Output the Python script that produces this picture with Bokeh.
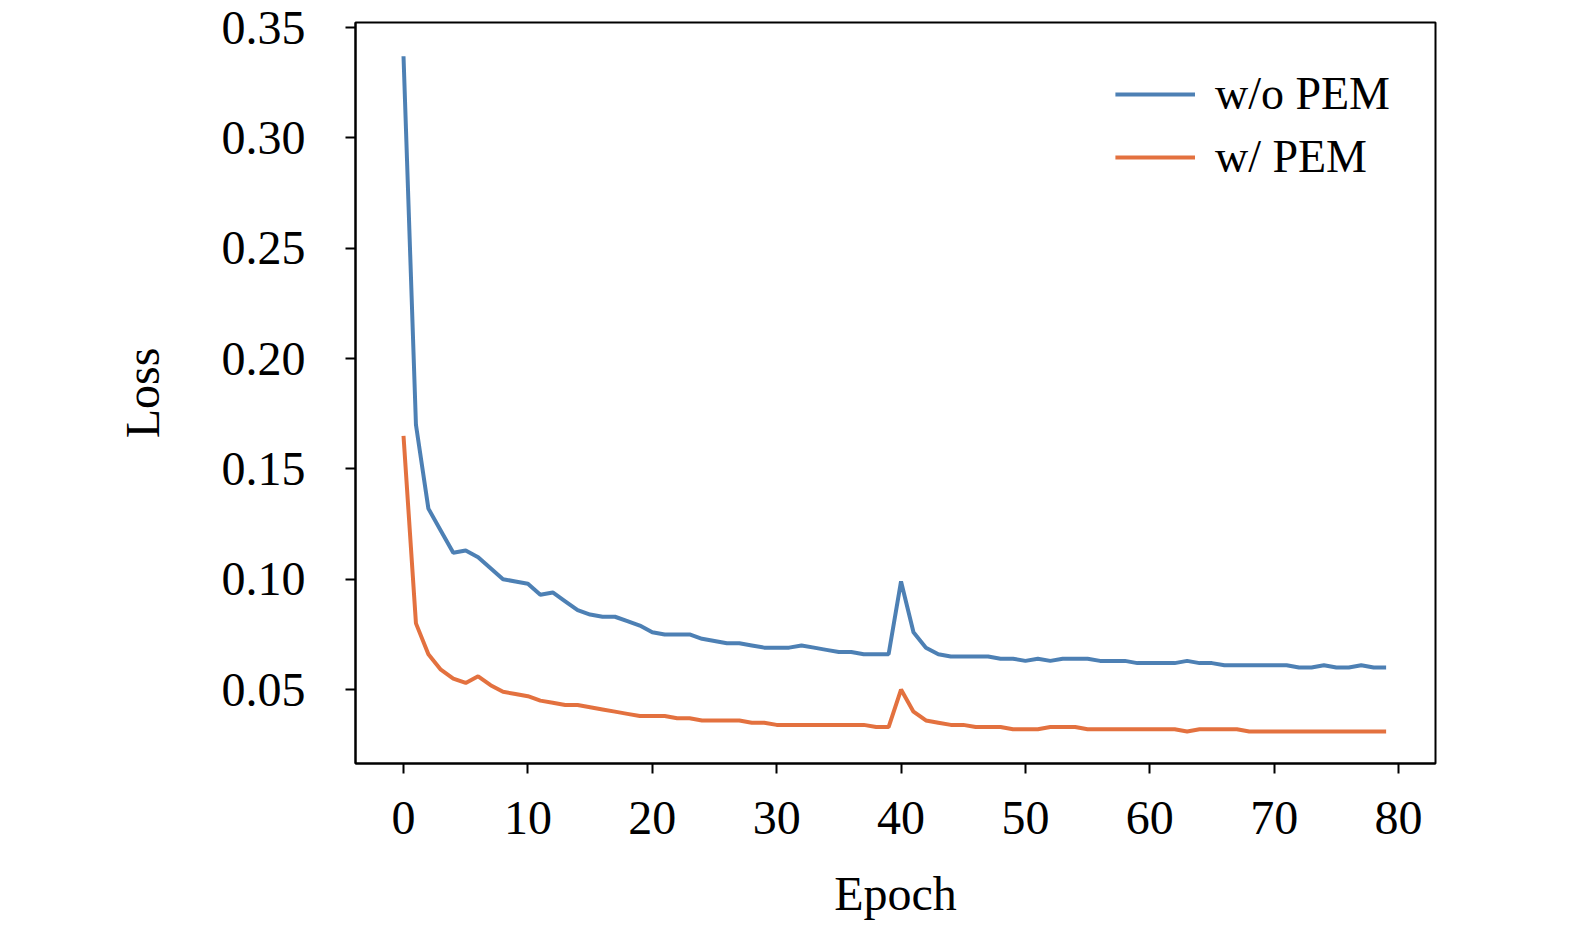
from bokeh.plotting import figure
from bokeh.models import Range1d, Legend, LegendItem
from bokeh.embed import file_html
from bokeh.resources import INLINE

epochs = list(range(80))
wo_pem = [0.337,0.170,0.132,0.122,0.112,0.113,0.110,0.105,0.100,0.099,
          0.098,0.093,0.094,0.090,0.086,0.084,0.083,0.083,0.081,0.079,
          0.076,0.075,0.075,0.075,0.073,0.072,0.071,0.071,0.070,0.069,
          0.069,0.069,0.070,0.069,0.068,0.067,0.067,0.066,0.066,0.066,
          0.099,0.076,0.069,0.066,0.065,0.065,0.065,0.065,0.064,0.064,
          0.063,0.064,0.063,0.064,0.064,0.064,0.063,0.063,0.063,0.062,
          0.062,0.062,0.062,0.063,0.062,0.062,0.061,0.061,0.061,0.061,
          0.061,0.061,0.060,0.060,0.061,0.060,0.060,0.061,0.060,0.060]
w_pem = [0.165,0.080,0.066,0.059,0.055,0.053,0.056,0.052,0.049,0.048,
         0.047,0.045,0.044,0.043,0.043,0.042,0.041,0.040,0.039,0.038,
         0.038,0.038,0.037,0.037,0.036,0.036,0.036,0.036,0.035,0.035,
         0.034,0.034,0.034,0.034,0.034,0.034,0.034,0.034,0.033,0.033,
         0.050,0.040,0.036,0.035,0.034,0.034,0.033,0.033,0.033,0.032,
         0.032,0.032,0.033,0.033,0.033,0.032,0.032,0.032,0.032,0.032,
         0.032,0.032,0.032,0.031,0.032,0.032,0.032,0.032,0.031,0.031,
         0.031,0.031,0.031,0.031,0.031,0.031,0.031,0.031,0.031,0.031]
x_ticks = [0,10,20,30,40,50,60,70,80]
y_ticks = [0.05,0.10,0.15,0.20,0.25,0.30,0.35]

p = figure(width=1559, height=924, output_backend="svg", toolbar_location=None,
           x_range=Range1d(-3.86, 82.97), y_range=Range1d(0.0165, 0.3523),
           min_border_left=355, min_border_top=22, min_border_right=124, min_border_bottom=161)
p.xgrid.visible = False
p.ygrid.visible = False
p.outline_line_color = "black"
p.outline_line_width = 2
r1 = p.line(epochs, wo_pem, line_color="#3a72ac", line_width=4, line_alpha=0.9)
r2 = p.line(epochs, w_pem, line_color="#e0622a", line_width=4, line_alpha=0.9)
for ax in (p.xaxis[0], p.yaxis[0]):
    ax.major_label_text_font = "Liberation Serif"
    ax.major_label_text_font_size = "48px"
    ax.major_label_text_color = "black"
    ax.axis_label_text_font = "Liberation Serif"
    ax.axis_label_text_font_size = "48px"
    ax.axis_label_text_font_style = "normal"
    ax.axis_label_text_color = "black"
    ax.axis_line_width = 2
    ax.major_tick_line_width = 2
    ax.major_tick_out = 10
    ax.major_tick_in = 0
    ax.minor_tick_line_color = None
p.xaxis.ticker = x_ticks
p.yaxis.ticker = y_ticks
p.yaxis.major_label_overrides = {v: f"{v:.2f}" for v in y_ticks}
p.xaxis.axis_label = "Epoch"
p.yaxis.axis_label = "Loss"
p.xaxis.major_label_standoff = 28
p.yaxis.major_label_standoff = 40
p.xaxis.axis_label_standoff = 30
p.yaxis.axis_label_standoff = 50
leg = Legend(items=[LegendItem(label="w/o PEM", renderers=[r1]),
                    LegendItem(label="w/ PEM", renderers=[r2])],
             location="top_right", border_line_color=None, background_fill_alpha=0,
             label_text_font="Liberation Serif", label_text_font_size="46px",
             label_text_color="black", label_standoff=20,
             glyph_width=80, label_height=50, spacing=10, margin=45, padding=10)
p.add_layout(leg)
open("out.html", "w").write(file_html(p, INLINE))
